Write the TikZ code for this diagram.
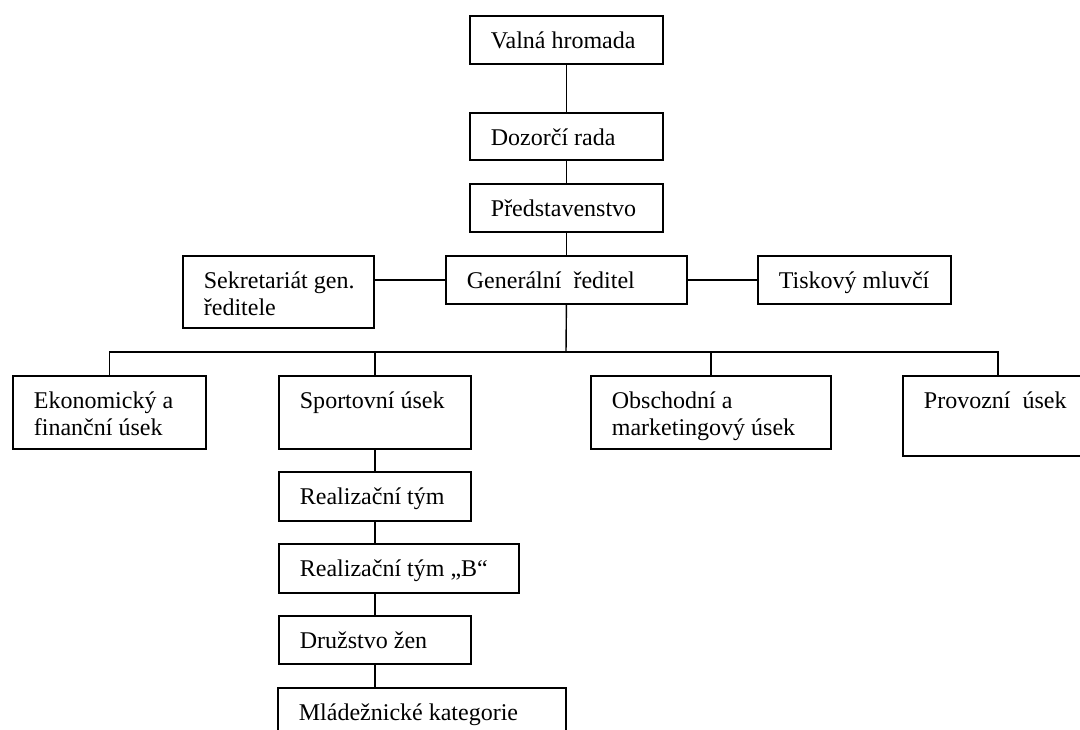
\documentclass[tikz,border=0pt]{standalone}
\usepackage{fontspec}
\setmainfont{Liberation Serif}
\usetikzlibrary{positioning}

% text block of a box: width and height in pixels of the reference
\newcommand{\orgtext}[3]{\parbox[t][\dimexpr #2pt/2\relax][t]{\dimexpr #1pt/2\relax}{\raggedright\leftskip=10.5pt\rule{0pt}{16.25pt}#3}}

\tikzset{
  orgbox/.style={draw, line width=0.9pt, inner sep=0pt, anchor=north west,
    font=\fontsize{12pt}{13.75pt}\selectfont},
  link/.style={line width=0.7pt}
}

\begin{document}
\begin{tikzpicture}[x=0.5pt,y=-0.5pt]
  \useasboundingbox (0,0) rectangle (1080,729);

  % Upper chain
  \node[orgbox] (valna) at (469,15)  {\orgtext{193}{48}{Valná hromada}};
  \node[orgbox] (dozor) at (469,112) {\orgtext{193}{47}{Dozorčí rada}};
  \node[orgbox] (pred)  at (469,183) {\orgtext{193}{48}{Představenstvo}};
  \node[orgbox] (gr)    at (445,255) {\orgtext{241}{48}{Generální\ \ ředitel}};

  % Staff boxes beside the director
  \node[orgbox] (sekr)  at (182,255) {\orgtext{191}{72}{Sekretariát gen.\\ ředitele}};
  \node[orgbox] (tisk)  at (757,255) {\orgtext{193}{48}{Tiskový mluvčí}};

  % Divisions
  \node[orgbox] (ekon)  at (12,375)  {\orgtext{193}{73}{Ekonomický a\\ finanční úsek}};
  \node[orgbox] (sport) at (278,375) {\orgtext{192}{73}{Sportovní úsek}};
  \node[orgbox] (obch)  at (590,375) {\orgtext{240}{73}{Obschodní a\\ marketingový úsek}};
  \node[orgbox] (prov)  at (902,375) {\orgtext{190}{80}{Provozní\ \ úsek}};

  % Sports teams
  \node[orgbox] (real)  at (278,471) {\orgtext{192}{49}{Realizační tým}};
  \node[orgbox] (realb) at (278,543) {\orgtext{240}{49}{Realizační tým „B“}};
  \node[orgbox] (druz)  at (278,615) {\orgtext{192}{48}{Družstvo žen}};
  \node[orgbox] (mlad)  at (277,687) {\orgtext{288}{60}{Mládežnické kategorie}};

  % Connectors
  \draw[link] (valna.south) -- (dozor.north);
  \draw[link] (dozor.south) -- (pred.north);
  \draw[link] (pred.south) -- (gr.north);
  \draw[link] (gr.west) -- (sekr.east |- gr.west);
  \draw[link] (gr.east) -- (tisk.west);

  % Bus to the divisions
  \coordinate (bus) at (566,352);
  \draw[link] (gr.south) -- (bus);
  \draw[link] (ekon.north) |- (prov.north |- bus) -- (prov.north);
  \draw[link] (sport.north) -- (sport.north |- bus);
  \draw[link] (obch.north) -- (obch.north |- bus);

  % Chain below the sports division
  \draw[link] (sport.south) -- (real.north);
  \draw[link] (real.south) -- (real.south |- realb.north);
  \draw[link] (real.south |- realb.south) -- (real.south |- druz.north);
  \draw[link] (druz.south) -- (druz.south |- mlad.north);
\end{tikzpicture}
\end{document}
